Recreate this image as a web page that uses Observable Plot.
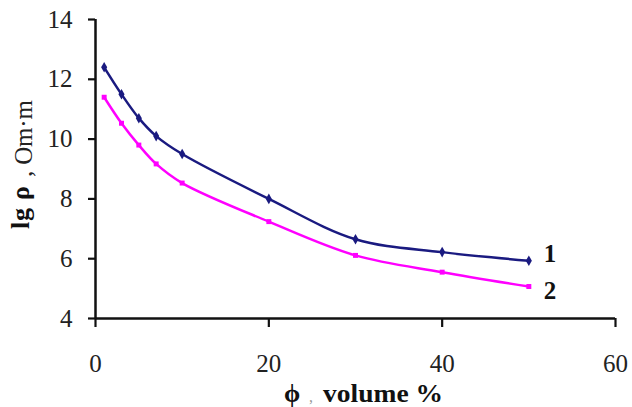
<!DOCTYPE html>
<html><head><meta charset="utf-8">
<script src="https://cdn.jsdelivr.net/npm/d3@7"></script>
<script src="https://cdn.jsdelivr.net/npm/@observablehq/plot@0.6"></script>
<style>html,body{margin:0;padding:0;background:#fff} svg{display:block} svg text{font-family:'Liberation Serif','Times New Roman',serif !important}</style>
</head><body><div id="chart"></div>
<script>
const phi = [1, 3, 5, 7, 10, 20, 30, 40, 50];
const series1 = [12.4, 11.5, 10.7, 10.1, 9.5, 8.0, 6.65, 6.22, 5.93];
const series2 = [11.4, 10.53, 9.8, 9.17, 8.53, 7.24, 6.11, 5.55, 5.07];
const seriesNames = ["1", "2"];
const seriesColors = ["#1a1a80", "#ff00ff"];
const xTicks = [0, 20, 40, 60];
const yTicks = [4, 6, 8, 10, 12, 14];

const d1 = phi.map((x, i) => ({x, y: series1[i], s: seriesNames[0]}));
const d2 = phi.map((x, i) => ({x, y: series2[i], s: seriesNames[1]}));
const font = "'Liberation Serif', 'Times New Roman', serif";

const plot = Plot.plot({
  width: 632, height: 407,
  marginLeft: 95, marginRight: 17, marginTop: 19, marginBottom: 89,
  style: {fontFamily: font, background: "#fff"},
  x: {domain: [0, 60]},
  y: {domain: [4, 14]},
  marks: [
    Plot.axisX({ticks: xTicks, tickSize: 9, tickPadding: 27, fontSize: 25, fontFamily: font, fontVariant: "normal", strokeWidth: 2.2, stroke: "#111", fill: "#222", label: null}),
    Plot.axisY({ticks: yTicks, tickSize: 7, tickPadding: 16, fontSize: 25, fontFamily: font, fontVariant: "normal", strokeWidth: 2.2, stroke: "#111", fill: "#222", label: null}),
    Plot.ruleY([4], {stroke: "#111", strokeWidth: 2.5}),
    Plot.ruleX([0], {stroke: "#111", strokeWidth: 2.5}),
    Plot.line(d1, {x: "x", y: "y", stroke: seriesColors[0], strokeWidth: 2.5, curve: "catmull-rom"}),
    Plot.line(d2, {x: "x", y: "y", stroke: seriesColors[1], strokeWidth: 2.5, curve: "catmull-rom"}),
    Plot.dot(d1, {x: "x", y: "y", symbol: "diamond", r: 3.2, fill: seriesColors[0], stroke: null}),
    Plot.dot(d2, {x: "x", y: "y", symbol: "square", r: 2.8, fill: seriesColors[1], stroke: null}),
    Plot.text([d1[d1.length - 1]], {x: "x", y: "y", text: "s", dx: 15, dy: -7, textAnchor: "start", fontSize: 25, fontFamily: font, fontWeight: "bold", fill: "#111"}),
    Plot.text([d2[d2.length - 1]], {x: "x", y: "y", text: "s", dx: 15, dy: 4, textAnchor: "start", fontSize: 25, fontFamily: font, fontWeight: "bold", fill: "#111"})
  ]
});

const svg = d3.select(plot);

// y-axis label: "lg ρ" bold, ", Om·m" regular (rotated, reading bottom to top)
svg.append("text")
  .attr("transform", "translate(29,229) rotate(-90)")
  .attr("text-anchor", "start")
  .attr("font-weight", "bold").attr("font-size", 26)
  .attr("fill", "#111")
  .attr("textLength", 43).attr("lengthAdjust", "spacing")
  .text("lg ρ");
svg.append("text")
  .attr("transform", "translate(32,177) rotate(-90)")
  .attr("text-anchor", "start")
  .attr("font-size", 25)
  .attr("fill", "#222")
  .attr("textLength", 77).attr("lengthAdjust", "spacing")
  .text(", Om·m");

// x-axis label
svg.append("text")
  .attr("x", 284).attr("y", 402)
  .attr("text-anchor", "start")
  .attr("font-weight", "bold").attr("font-size", 26)
  .attr("fill", "#111")
  .text("ϕ");
svg.append("text")
  .attr("x", 309).attr("y", 402)
  .attr("text-anchor", "start")
  .attr("font-size", 16)
  .attr("fill", "#999")
  .text(",");
svg.append("text")
  .attr("x", 323).attr("y", 402)
  .attr("text-anchor", "start")
  .attr("font-weight", "bold").attr("font-size", 25)
  .attr("fill", "#111")
  .attr("textLength", 120).attr("lengthAdjust", "spacingAndGlyphs")
  .text("volume %");

document.getElementById("chart").appendChild(plot);
</script>
</body></html>
